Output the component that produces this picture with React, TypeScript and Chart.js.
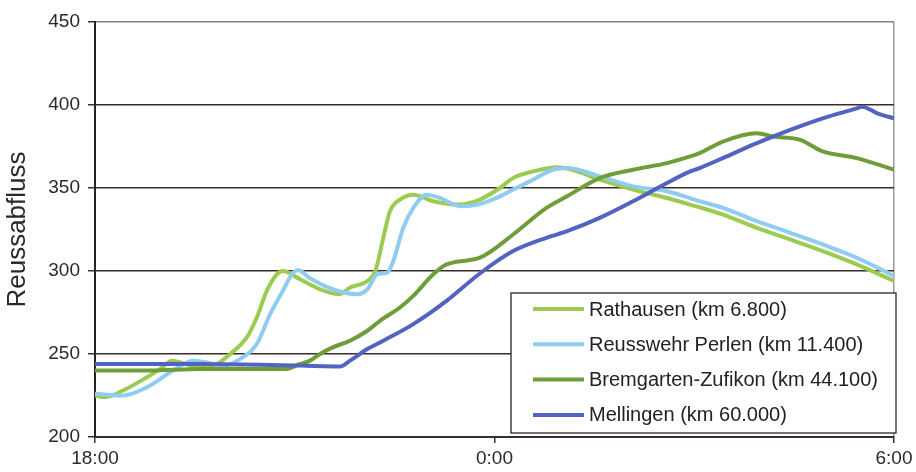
import { useEffect, useRef } from "react";
import { Chart, registerables } from "chart.js";

Chart.register(...registerables);

// x values are hours after 18:00
const xTickLabels = ["18:00", "0:00", "6:00"];
const yTickValues = [200, 250, 300, 350, 400, 450];
const yAxisTitle = "Reussabfluss";

const seriesLabels = [
  "Rathausen (km 6.800)",
  "Reusswehr Perlen (km 11.400)",
  "Bremgarten-Zufikon (km 44.100)",
  "Mellingen (km 60.000)",
];

const rathausenHours = [0, 0.15, 0.42, 0.78, 0.98, 1.16, 1.32, 1.58, 1.83, 2.03, 2.28, 2.43, 2.58, 2.73, 2.82, 3.08, 3.38, 3.68, 3.83, 4.09, 4.21, 4.33, 4.43, 4.58, 4.78, 5.08, 5.48, 5.78, 6.08, 6.28, 6.58, 6.94, 7.24, 7.58, 8.08, 8.59, 8.94, 9.43, 9.94, 10.44, 10.93, 11.44, 12];
const rathausenFlow = [225, 224, 228, 236, 241, 246, 244.5, 242, 244, 250, 260, 272, 288, 298, 300, 295, 289, 286, 290, 294, 300, 320, 336, 343, 346, 342, 340, 343, 350, 356, 360, 362.5, 360, 355, 349, 344, 340, 334, 326, 319, 312, 304, 294];

const perlenHours = [0, 0.42, 0.78, 1.17, 1.47, 1.73, 1.92, 2.22, 2.43, 2.63, 2.82, 2.97, 3.05, 3.23, 3.57, 3.94, 4.09, 4.24, 4.39, 4.48, 4.63, 4.78, 4.98, 5.18, 5.5, 5.75, 6.03, 6.23, 6.53, 6.88, 7.09, 7.58, 8.08, 8.59, 9.08, 9.43, 9.94, 10.44, 10.93, 11.44, 12];
const perlenFlow = [226, 225, 230, 240, 246, 244.5, 243, 248, 256, 274, 288, 298.6, 300.5, 295.6, 289, 286, 289, 298, 299, 306, 326, 338, 346, 344, 339, 340, 344, 348, 354, 361, 362, 357, 351, 348, 342, 338, 330, 323, 316, 308, 297];

const bremgartenHours = [0, 0.83, 1.58, 2.88, 3.08, 3.23, 3.38, 3.57, 3.83, 4.09, 4.28, 4.58, 4.78, 5.08, 5.28, 5.78, 6.28, 6.78, 7.09, 7.58, 8.08, 8.59, 8.94, 9.08, 9.43, 9.94, 10.18, 10.59, 10.93, 11.44, 12];
const bremgartenFlow = [240, 240, 241, 241, 244, 246, 250, 254, 258, 264, 270, 278, 285, 298, 304, 308, 322, 338, 345, 356, 361, 365, 369, 371, 378, 383, 381, 379, 372, 368, 361];

const mellingenHours = [0, 1.58, 3.08, 3.68, 3.83, 4.09, 4.33, 4.78, 5.28, 5.78, 6.28, 6.78, 7.09, 7.58, 8.08, 8.59, 8.94, 9.08, 9.43, 9.94, 10.44, 10.93, 11.44, 11.52, 11.75, 12];
const mellingenFlow = [244, 244, 243, 242.5, 246, 253, 258, 268, 282, 298.5, 312, 320, 324, 332, 342, 353, 360, 362, 368, 377, 385, 392, 398, 399, 395, 392];

const seriesColors = ["#9ccb52", "#8fcdf0", "#6e9d3a", "#5363c2"];

const FONT = "'Liberation Sans', Arial, sans-serif";

const toPoints = (xs: number[], ys: number[]) => xs.map((x, i) => ({ x, y: ys[i] }));

const boxLegend = {
  id: "boxLegend",
  afterDatasetsDraw(chart: any) {
    const { ctx, chartArea } = chart;
    const w = 385;
    const h = 140;
    const x = chartArea.right + 2 - w;
    const y = chartArea.bottom - 4 - h;
    ctx.save();
    ctx.fillStyle = "#ffffff";
    ctx.fillRect(x, y, w, h);
    ctx.strokeStyle = "#2b2222";
    ctx.lineWidth = 1.3;
    ctx.strokeRect(x, y, w, h);
    chart.data.datasets.forEach((ds: any, i: number) => {
      const cy = y + 16 + i * 35.3;
      ctx.strokeStyle = ds.borderColor;
      ctx.lineWidth = 4;
      ctx.beginPath();
      ctx.moveTo(x + 22, cy);
      ctx.lineTo(x + 73, cy);
      ctx.stroke();
      ctx.fillStyle = "#222222";
      ctx.font = `20px ${FONT}`;
      ctx.textBaseline = "middle";
      ctx.textAlign = "left";
      ctx.fillText(ds.label, x + 78, cy + 1);
    });
    ctx.restore();
  },
};

export default function App() {
  const canvasRef = useRef<HTMLCanvasElement | null>(null);

  useEffect(() => {
    if (!canvasRef.current) return;
    const hours = [rathausenHours, perlenHours, bremgartenHours, mellingenHours];
    const flows = [rathausenFlow, perlenFlow, bremgartenFlow, mellingenFlow];
    const chart = new Chart(canvasRef.current, {
      type: "line",
      data: {
        datasets: seriesLabels.map((label, i) => ({
          label,
          data: toPoints(hours[i], flows[i]),
          borderColor: seriesColors[i],
          backgroundColor: seriesColors[i],
          borderWidth: 4,
          pointRadius: 0,
          cubicInterpolationMode: "monotone" as const,
          fill: false,
          order: 3 - i,
        })),
      },
      options: {
        animation: false,
        responsive: true,
        maintainAspectRatio: false,
        layout: { padding: { top: 22, right: 22, left: 0, bottom: 0 } },
        plugins: {
          legend: { display: false },
          tooltip: { enabled: false },
        },
        scales: {
          x: {
            type: "linear",
            min: 0,
            max: 12,
            afterBuildTicks: (scale: any) => {
              scale.ticks = [0, 6, 12].map((v) => ({ value: v }));
            },
            afterFit: (scale: any) => {
              scale.height = 35;
              scale.paddingLeft = 0;
              scale.paddingRight = 0;
            },
            ticks: {
              color: "#2a2a2a",
              font: { family: FONT, size: 19 },
              padding: 4,
              maxRotation: 0,
              autoSkip: false,
              callback: (v: any) => xTickLabels[Math.round(Number(v) / 6)] ?? "",
            },
            grid: {
              drawOnChartArea: true,
              color: (c: any) => (c.tick && c.tick.value === 12 ? "#9a9a9a" : "rgba(0,0,0,0)"),
              tickColor: "#333333",
              tickLength: 6,
              lineWidth: 1.5,
            },
            border: { display: true, color: "#3a2b3a", width: 2 },
          },
          y: {
            min: 200,
            max: 450,
            afterBuildTicks: (scale: any) => {
              scale.ticks = yTickValues.map((v) => ({ value: v }));
            },
            afterFit: (scale: any) => {
              scale.width = 95;
            },
            ticks: {
              color: "#2a2a2a",
              font: { family: FONT, size: 19 },
              padding: 8,
            },
            grid: {
              color: (c: any) => (c.tick && c.tick.value === 450 ? "#8a8080" : "#3a2b2b"),
              tickColor: "#333333",
              tickLength: 7,
              lineWidth: 1.5,
            },
            border: { display: true, color: "#2b2020", width: 2 },
            title: {
              display: true,
              text: yAxisTitle,
              color: "#2a2a2a",
              font: { family: FONT, size: 26 },
              padding: { top: 2, bottom: 0 },
            },
          },
        },
      },
      plugins: [boxLegend],
    });
    return () => chart.destroy();
  }, []);

  return (
    <div style={{ position: "absolute", left: 0, top: 0, width: 916, height: 472, background: "#fff" }}>
      <canvas ref={canvasRef} />
    </div>
  );
}
